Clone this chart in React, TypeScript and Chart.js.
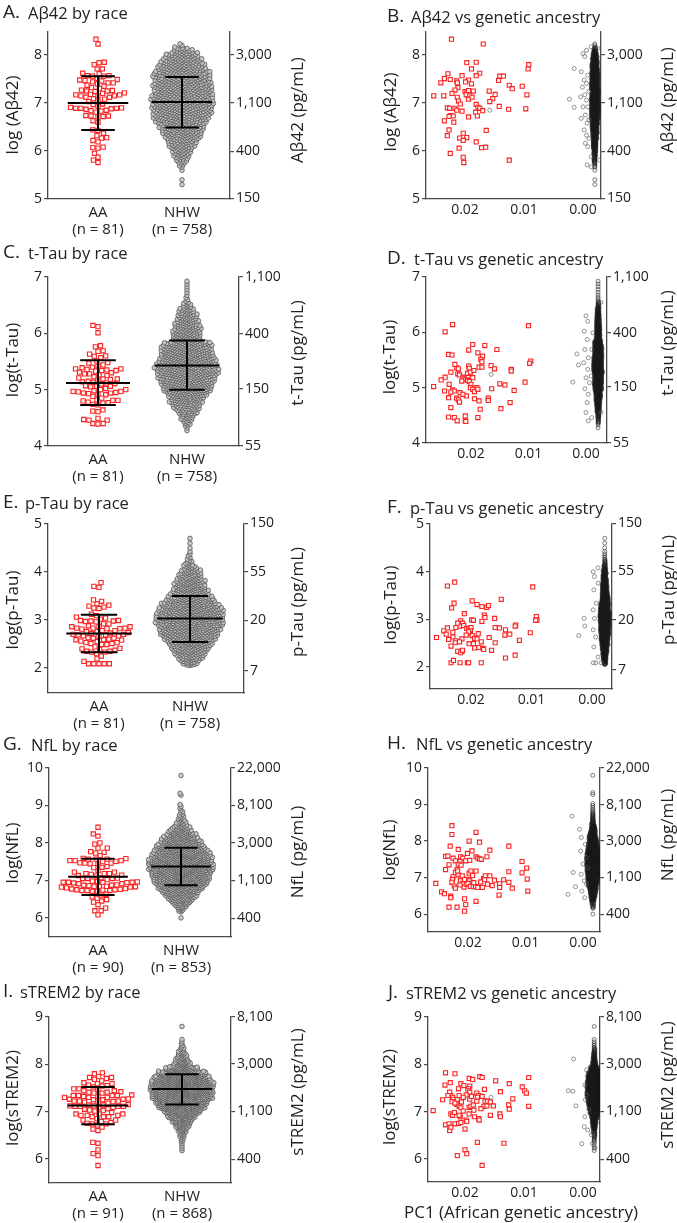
import React, { useEffect, useRef } from 'react';
import { Chart, registerables } from 'chart.js';

Chart.register(...registerables);

const FONT = "'Open Sans', 'Noto Sans', 'DejaVu Sans', sans-serif";
const INK = '#222222';
const AXIS_COLOR = '#4a4a4a';

// ================= Aβ42 (A, B) =================
const abAaPc1 = [0.0223,0.0169,0.0197,0.0181,0.0189,0.0092,0.0093,0.0229,0.0175,0.0205,
  0.0235,0.0225,0.0241,0.0214,0.0213,0.0194,0.0199,0.0181,0.0189,0.0141,
  0.0135,0.0143,0.0125,0.0120,0.0103,0.0212,0.0217,0.0186,0.0159,0.0200,
  0.0197,0.0194,0.0253,0.0236,0.0213,0.0198,0.0192,0.0149,0.0095,0.0153,
  0.0194,0.0158,0.0181,0.0142,0.0230,0.0226,0.0217,0.0214,0.0178,0.0175,
  0.0126,0.0097,0.0205,0.0182,0.0224,0.0220,0.0227,0.0194,0.0179,0.0235,
  0.0219,0.0227,0.0164,0.0230,0.0203,0.0209,0.0197,0.0203,0.0181,0.0210,
  0.0172,0.0165,0.0225,0.0203,0.0202,0.0125,0.0211,0.0208,0.0188,0.0222,0.0170];
const abAaLog = [8.33,8.23,7.84,7.85,7.71,7.80,7.71,7.61,7.62,7.57,
  7.51,7.49,7.42,7.46,7.42,7.48,7.44,7.57,7.40,7.56,
  7.56,7.47,7.37,7.30,7.35,7.32,7.27,7.25,7.25,7.24,
  7.21,7.26,7.15,7.15,7.12,7.17,7.15,7.18,7.17,7.09,
  7.08,7.03,6.97,6.93,6.90,6.89,6.89,6.85,6.91,6.89,
  6.87,6.88,6.83,6.81,6.74,6.73,6.72,6.71,6.73,6.63,
  6.60,6.44,6.43,6.32,6.37,6.27,6.28,6.22,6.19,6.06,
  6.07,6.08,5.95,5.87,5.76,5.81,7.04,6.98,7.12,7.20,6.84];
const abNhwBinLow = 5.25;
const abNhwCounts = [1,1,0,1,4,8,11,14,19,21,25,29,32,35,40,42,43,44,44,42,42,41,40,40,35,33,28,23,14,3];
const abNhwOutPc1 = [0.0023,0.0015,0.0015,0.0158,0.0000,-0.0003,-0.0006,0.0003,-0.0002,0.0001,
  -0.0003,0.0004,-0.0006,0.0000,-0.0004,0.0003,-0.0007,-0.0002,-0.0006,-0.0004,
  -0.0008,-0.0007,-0.0014,-0.0006,-0.0008,-0.0010,-0.0008,-0.0010,-0.0010,-0.0014,
  -0.0025,-0.0028,-0.0014];
const abNhwOutLog = [7.08,7.72,6.91,6.85,8.03,7.97,8.10,7.65,7.48,7.33,
  7.17,7.13,7.06,6.92,6.75,6.68,6.58,6.44,6.33,6.16,
  6.09,5.71,5.88,7.41,7.58,7.24,6.92,6.65,6.26,8.17,
  8.14,5.81,5.67];
const abAaStats = [7.00, 7.56, 6.44];
const abNhwStats = [7.02, 7.54, 6.49];
const abLeftTicks = [5, 6, 7, 8];
const abRightTicks = [150, 400, 1100, 3000];
const abGroups = [['AA', '(n = 81)'], ['NHW', '(n = 758)']];

// ================= t-Tau (C, D) =================
const ttAaPc1 = [0.0232,0.0245,0.0100,0.0197,0.0176,0.0155,0.0204,0.0239,0.0233,0.0188,
  0.0180,0.0183,0.0181,0.0165,0.0096,0.0098,0.0225,0.0222,0.0204,0.0203,
  0.0186,0.0181,0.0159,0.0130,0.0130,0.0235,0.0223,0.0220,0.0245,0.0252,
  0.0214,0.0212,0.0209,0.0205,0.0206,0.0197,0.0206,0.0203,0.0200,0.0201,
  0.0197,0.0194,0.0265,0.0238,0.0150,0.0141,0.0106,0.0232,0.0229,0.0246,
  0.0235,0.0219,0.0164,0.0190,0.0188,0.0125,0.0239,0.0225,0.0208,0.0222,
  0.0220,0.0194,0.0186,0.0170,0.0170,0.0132,0.0235,0.0184,0.0148,0.0239,
  0.0229,0.0224,0.0210,0.0210,0.0209,0.0188,0.0216,0.0201,0.0214,0.0195,0.0228];
const ttAaLog = [6.14,6.01,6.12,5.78,5.76,5.69,5.68,5.60,5.59,5.63,
  5.57,5.51,5.47,5.40,5.48,5.44,5.36,5.34,5.39,5.35,
  5.37,5.37,5.34,5.33,5.30,5.28,5.25,5.23,5.19,5.14,
  5.19,5.17,5.15,5.21,5.26,5.18,5.13,5.11,5.06,5.00,
  4.97,4.93,5.02,5.06,5.07,5.05,5.10,4.96,4.94,4.94,
  4.92,4.91,4.98,5.00,4.97,4.95,4.82,4.81,4.85,4.78,
  4.74,4.80,4.76,4.81,4.77,4.73,4.64,4.61,4.62,4.47,
  4.46,4.40,4.49,4.40,4.39,4.46,5.12,5.28,4.88,5.31,5.42];
const ttNhwBinLow = 4.25;
const ttNhwCounts = [2,7,12,19,25,31,37,47,50,53,59,59,56,53,50,47,28,28,25,22,19,15,9,3,2,2,2];
const ttNhwOutPc1 = [0.0023,0.0016,0.0013,0.0000,-0.0003,0.0003,-0.0002,0.0002,-0.0004,0.0004,
  -0.0003,0.0000,-0.0006,0.0002,-0.0004,-0.0002,0.0000,-0.0004,-0.0010,-0.0009,
  -0.0010,-0.0012,-0.0026,-0.0026,0.0165];
const ttNhwOutLog = [5.10,5.61,5.41,6.30,6.20,6.02,5.87,5.69,5.54,5.45,
  5.33,5.18,5.09,4.98,4.88,4.73,4.55,4.40,4.46,5.21,
  5.69,5.99,4.55,6.54,5.24];
const ttAaStats = [5.12, 5.52, 4.73];
const ttNhwStats = [5.43, 5.875, 5.00];
const ttLeftTicks = [4, 5, 6, 7];
const ttRightTicks = [55, 150, 400, 1100];
const ttGroups = [['AA', '(n = 81)'], ['NHW', '(n = 758)']];

// ================= p-Tau (E, F) =================
const ptAaPc1 = [0.0239,0.0227,0.0098,0.0228,0.0232,0.0198,0.0190,0.0182,0.0174,0.0171,
  0.0150,0.0178,0.0177,0.0161,0.0126,0.0127,0.0092,0.0091,0.0093,0.0217,
  0.0214,0.0219,0.0212,0.0239,0.0245,0.0241,0.0230,0.0230,0.0207,0.0204,
  0.0200,0.0199,0.0196,0.0201,0.0203,0.0198,0.0182,0.0160,0.0153,0.0144,
  0.0136,0.0143,0.0120,0.0102,0.0257,0.0237,0.0225,0.0215,0.0226,0.0219,
  0.0194,0.0190,0.0183,0.0203,0.0196,0.0233,0.0194,0.0187,0.0180,0.0179,
  0.0166,0.0160,0.0222,0.0215,0.0217,0.0214,0.0143,0.0127,0.0233,0.0229,
  0.0218,0.0206,0.0204,0.0183,0.0204,0.0208,0.0222,0.0225,0.0211,0.0188,0.0170];
const ptAaLog = [3.70,3.78,3.68,3.34,3.24,3.39,3.31,3.27,3.25,3.29,
  3.42,3.09,3.04,3.02,2.88,2.86,3.06,2.99,2.98,2.97,
  2.92,2.86,2.87,2.82,2.76,2.69,2.73,2.63,2.81,2.78,
  2.83,2.99,2.98,2.76,2.70,2.66,2.96,2.83,2.82,2.67,
  2.69,2.78,2.56,2.72,2.62,2.58,2.55,2.59,2.51,2.53,
  2.60,2.59,2.53,2.49,2.49,2.44,2.40,2.41,2.39,2.37,
  2.35,2.51,2.33,2.33,2.30,2.35,2.19,2.25,2.09,2.14,
  2.09,2.09,2.09,2.09,2.74,2.67,2.92,2.83,3.12,2.70,2.62];
const ptNhwBinLow = 2.05;
const ptNhwCounts = [14,20,25,31,36,42,48,50,53,56,56,53,48,42,36,31,28,25,20,17,11,6,3,2,1,1,1];
const ptNhwOutPc1 = [0.0022,0.0013,0.0012,-0.0002,-0.0004,-0.0003,-0.0007,-0.0002,-0.0004,-0.0002,
  -0.0006,-0.0003,-0.0002,-0.0006,-0.0010,-0.0010,-0.0010,0.0157,-0.0015];
const ptNhwOutLog = [2.66,3.02,2.86,4.00,3.90,3.62,3.34,3.20,3.02,2.78,
  2.63,2.42,2.09,2.09,2.21,3.76,4.08,2.82,2.09];
const ptAaStats = [2.72, 3.11, 2.33];
const ptNhwStats = [3.03, 3.50, 2.54];
const ptLeftTicks = [2, 3, 4, 5];
const ptRightTicks = [7, 20, 55, 150];
const ptGroups = [['AA', '(n = 81)'], ['NHW', '(n = 758)']];

// ================= NfL (G, H) =================
const nfAaPc1 = [0.0228,0.0228,0.0186,0.0231,0.0198,0.0180,0.0129,0.0217,0.0162,0.0239,
  0.0235,0.0226,0.0213,0.0209,0.0201,0.0214,0.0217,0.0204,0.0197,0.0186,
  0.0183,0.0180,0.0177,0.0167,0.0106,0.0239,0.0233,0.0219,0.0222,0.0217,
  0.0226,0.0227,0.0228,0.0224,0.0222,0.0213,0.0213,0.0209,0.0207,0.0203,
  0.0206,0.0198,0.0197,0.0198,0.0200,0.0196,0.0191,0.0187,0.0183,0.0192,
  0.0173,0.0170,0.0162,0.0178,0.0171,0.0154,0.0138,0.0158,0.0145,0.0145,
  0.0129,0.0123,0.0129,0.0106,0.0098,0.0097,0.0096,0.0146,0.0256,0.0246,
  0.0241,0.0230,0.0230,0.0233,0.0219,0.0206,0.0204,0.0206,0.0186,0.0212,
  0.0222,0.0210,0.0195,0.0214,0.0190,0.0175,0.0166,0.0218,0.0186,0.0193];
const nfAaLog = [8.42,8.18,8.24,7.86,8.00,7.97,7.86,7.77,7.75,7.58,
  7.59,7.53,7.57,7.53,7.66,7.44,7.37,7.46,7.47,7.57,
  7.53,7.51,7.50,7.57,7.44,7.22,7.35,7.22,7.14,7.07,
  7.02,6.95,6.87,6.77,6.71,6.98,6.91,6.84,6.74,6.82,
  6.95,7.12,6.95,6.91,6.84,6.76,6.75,6.75,6.73,7.06,
  6.97,7.05,7.05,6.88,6.94,6.93,6.94,6.78,6.83,6.73,
  6.87,6.71,7.16,7.13,7.26,6.96,6.63,6.52,6.84,6.61,
  6.56,6.49,6.45,6.19,6.19,6.42,6.26,6.08,6.35,7.34,
  7.46,7.05,7.18,6.80,6.86,6.73,6.82,7.18,7.18,7.73];
const nfNhwBinLow = 5.95;
const nfNhwCounts = [1,0,5,9,15,21,26,32,38,44,47,50,53,56,56,56,53,50,44,41,35,32,26,21,15,9,6,5,3,2,2,0,0,2,0,0,0,0,1];
const nfNhwOutPc1 = [0.0026,0.0019,0.0017,0.0013,0.0006,0.0003,0.0004,0.0000,0.0003,-0.0002,
  0.0002,-0.0003,-0.0006,-0.0004,-0.0008,-0.0006,-0.0017];
const nfNhwOutLog = [6.54,8.68,7.14,6.75,8.32,8.10,7.73,7.37,7.09,6.91,
  6.63,6.45,7.55,7.91,7.27,6.82,6.27];
const nfAaStats = [7.10, 7.58, 6.61];
const nfNhwStats = [7.37, 7.87, 6.87];
const nfLeftTicks = [6, 7, 8, 9, 10];
const nfRightTicks = [400, 1100, 3000, 8100, 22000];
const nfGroups = [['AA', '(n = 90)'], ['NHW', '(n = 853)']];

// ================= sTREM2 (I, J) =================
const stAaPc1 = [0.0233,0.0217,0.0175,0.0171,0.0092,0.0193,0.0187,0.0148,0.0225,0.0207,
  0.0125,0.0234,0.0202,0.0192,0.0103,0.0211,0.0194,0.0099,0.0096,0.0226,
  0.0195,0.0192,0.0140,0.0180,0.0224,0.0210,0.0198,0.0177,0.0221,0.0220,
  0.0203,0.0192,0.0179,0.0171,0.0238,0.0222,0.0213,0.0206,0.0166,0.0162,
  0.0157,0.0119,0.0254,0.0214,0.0210,0.0207,0.0193,0.0190,0.0186,0.0168,
  0.0163,0.0152,0.0126,0.0092,0.0125,0.0173,0.0224,0.0221,0.0208,0.0210,
  0.0157,0.0141,0.0140,0.0184,0.0177,0.0176,0.0198,0.0197,0.0233,0.0227,
  0.0217,0.0211,0.0207,0.0226,0.0224,0.0200,0.0179,0.0134,0.0200,0.0197,
  0.0213,0.0171,0.0218,0.0189,0.0203,0.0193,0.0217,0.0180,0.0229,0.0167,0.0185];
const stAaLog = [7.82,7.80,7.74,7.72,7.72,7.70,7.68,7.65,7.61,7.59,
  7.59,7.56,7.55,7.54,7.52,7.48,7.48,7.44,7.39,7.41,
  7.44,7.41,7.42,7.39,7.34,7.34,7.35,7.34,7.30,7.26,
  7.30,7.26,7.30,7.32,7.25,7.21,7.25,7.20,7.22,7.22,
  7.20,7.27,7.02,7.15,7.11,7.08,7.09,7.11,7.14,7.11,
  7.12,7.12,7.14,7.11,7.05,7.06,6.95,6.92,6.89,6.92,
  6.92,6.95,6.89,6.89,6.85,6.82,6.82,6.79,6.72,6.74,
  6.74,6.75,6.77,6.60,6.67,6.63,6.35,6.33,6.19,6.11,
  6.07,5.86,6.98,7.32,7.01,6.95,7.18,7.22,7.34,7.47,7.03];
const stNhwBinLow = 6.15;
const stNhwCounts = [2,2,4,7,11,18,26,35,48,62,70,79,84,84,84,75,66,44,22,16,11,7,3,2,0,0,1];
const stNhwOutPc1 = [0.0025,0.0017,0.0016,0.0012,0.0002,-0.0002,-0.0003,-0.0004,-0.0003,-0.0006,
  -0.0006,-0.0010,-0.0008,-0.0014,-0.0017,-0.0016,-0.0020,0.0156,0.0158];
const stNhwOutLog = [7.44,7.43,8.11,7.12,6.32,6.68,6.89,7.25,7.56,7.88,
  7.35,7.04,6.61,6.51,6.54,6.32,6.23,7.30,7.22];
const stAaStats = [7.13, 7.52, 6.73];
const stNhwStats = [7.48, 7.79, 7.15];
const stLeftTicks = [6, 7, 8, 9];
const stRightTicks = [400, 1100, 3000, 8100];
const stGroups = [['AA', '(n = 91)'], ['NHW', '(n = 868)']];

const xAncTicks = [0.02, 0.01, 0.0];

// ================= tables built from the arrays =================
const MARKERS = [
  { name: 'Aβ42', letters: ['A', 'B'], lTitle: 'log (Aβ42)', rTitle: 'Aβ42 (pg/mL)', aaPc1: abAaPc1, aaLog: abAaLog, binLow: abNhwBinLow, counts: abNhwCounts, outPc1: abNhwOutPc1, outLog: abNhwOutLog, aaStats: abAaStats, nhwStats: abNhwStats, lTicks: abLeftTicks, rTicks: abRightTicks, groups: abGroups },
  { name: 't-Tau', letters: ['C', 'D'], lTitle: 'log(t-Tau)', rTitle: 't-Tau (pg/mL)', aaPc1: ttAaPc1, aaLog: ttAaLog, binLow: ttNhwBinLow, counts: ttNhwCounts, outPc1: ttNhwOutPc1, outLog: ttNhwOutLog, aaStats: ttAaStats, nhwStats: ttNhwStats, lTicks: ttLeftTicks, rTicks: ttRightTicks, groups: ttGroups },
  { name: 'p-Tau', letters: ['E', 'F'], lTitle: 'log(p-Tau)', rTitle: 'p-Tau (pg/mL)', aaPc1: ptAaPc1, aaLog: ptAaLog, binLow: ptNhwBinLow, counts: ptNhwCounts, outPc1: ptNhwOutPc1, outLog: ptNhwOutLog, aaStats: ptAaStats, nhwStats: ptNhwStats, lTicks: ptLeftTicks, rTicks: ptRightTicks, groups: ptGroups },
  { name: 'NfL', letters: ['G', 'H'], lTitle: 'log(NfL)', rTitle: 'NfL (pg/mL)', aaPc1: nfAaPc1, aaLog: nfAaLog, binLow: nfNhwBinLow, counts: nfNhwCounts, outPc1: nfNhwOutPc1, outLog: nfNhwOutLog, aaStats: nfAaStats, nhwStats: nfNhwStats, lTicks: nfLeftTicks, rTicks: nfRightTicks, groups: nfGroups },
  { name: 'sTREM2', letters: ['I', 'J'], lTitle: 'log(sTREM2)', rTitle: 'sTREM2 (pg/mL)', aaPc1: stAaPc1, aaLog: stAaLog, binLow: stNhwBinLow, counts: stNhwCounts, outPc1: stNhwOutPc1, outLog: stNhwOutLog, aaStats: stAaStats, nhwStats: stNhwStats, lTicks: stLeftTicks, rTicks: stRightTicks, groups: stGroups },
];

// page layout (pixels)
const LAYOUT = [
  { race: { T: 32, B: 199, ymin: 5, ymax: 8.48, L: 48, R: 230, cats: [98, 182], title: [3, 12, 28], lt: [13, 115], rt: [298, 110], d: 2.6 },
    anc: { T: 32, B: 199, ymin: 5, ymax: 8.48, L: 426, R: 601, x02: 465, x00: 583, title: [387, 16, 411], lt: [391, 112], rt: [668, 100], core: -0.0020 } },
  { race: { T: 277, B: 446, ymin: 4, ymax: 7, L: 48, R: 239, cats: [98, 187], title: [3, 252, 28], lt: [13, 360], rt: [298, 353], d: 2.45 },
    anc: { T: 277, B: 443, ymin: 4, ymax: 7, L: 426, R: 607, x02: 471, x00: 586, title: [387, 258, 414], lt: [390, 357], rt: [668, 343], core: -0.0021 } },
  { race: { T: 524, B: 693, ymin: 1.48, ymax: 5, L: 48, R: 244, cats: [99, 190], title: [3, 502, 25], lt: [13, 610], rt: [298, 602], d: 2.4 },
    anc: { T: 524, B: 689, ymin: 1.54, ymax: 5, L: 430, R: 612, x02: 471, x00: 592, title: [387, 507, 410], lt: [391, 605], rt: [669, 590], core: -0.0021 } },
  { race: { T: 768, B: 937, ymin: 5.49, ymax: 10, L: 49, R: 231, cats: [98, 181], title: [3, 744, 31], lt: [13, 853], rt: [298, 852], d: 2.1 },
    anc: { T: 768, B: 932, ymin: 5.51, ymax: 10, L: 428, R: 600, x02: 468, x00: 583, title: [387, 743, 416], lt: [390, 850], rt: [668, 835], core: -0.0017 } },
  { race: { T: 1017, B: 1183, ymin: 5.49, ymax: 9, L: 49, R: 231, cats: [98, 182], title: [3, 991, 20], lt: [13, 1098], rt: [298, 1092], d: 1.9 },
    anc: { T: 1017, B: 1182, ymin: 5.51, ymax: 9, L: 428, R: 600, x02: 465, x00: 583, title: [388, 992, 406], lt: [390, 1097], rt: [668, 1085], core: -0.0019, xTitle: [521, 1213] } },
];

// expand a read-off histogram (0.1-wide bins) into individual values
function expandBins(low: number, counts: number[], width = 0.1): number[] {
  const out: number[] = [];
  counts.forEach((c, k) => {
    for (let j = 0; j < c; j++) out.push(low + k * width + ((j + 0.5) / c) * width);
  });
  return out;
}

// beeswarm layout: returns horizontal pixel offsets
function swarm(values: number[], pxPerY: number, d: number): number[] {
  const order = values.map((_, i) => i).sort((a, b) => values[a] - values[b]);
  const placed: { x: number; y: number }[] = [];
  const out = new Array(values.length).fill(0);
  for (const i of order) {
    const y = values[i] * pxPerY;
    const blocks: [number, number][] = [];
    for (let k = placed.length - 1; k >= 0; k--) {
      const p = placed[k];
      const dy = y - p.y;
      if (dy >= d) break;
      const w = Math.sqrt(d * d - dy * dy);
      blocks.push([p.x - w, p.x + w]);
    }
    const cands = [0];
    blocks.forEach(([a, b]) => cands.push(a, b));
    cands.sort((a, b) => Math.abs(a) - Math.abs(b));
    let best = 0;
    for (const c of cands) {
      if (blocks.every(([a, b]) => c <= a + 1e-9 || c >= b - 1e-9)) { best = c; break; }
    }
    placed.push({ x: best, y });
    out[i] = best;
  }
  return out;
}

function textPlugin(items: any[]) {
  return {
    id: 'panelText',
    afterDraw(chart: any) {
      const ctx = chart.ctx;
      items.forEach((t) => {
        ctx.save();
        ctx.translate(t.x, t.y);
        if (t.rot) ctx.rotate(t.rot);
        ctx.font = `${t.size}px ${FONT}`;
        ctx.fillStyle = INK;
        ctx.textAlign = 'center';
        ctx.textBaseline = 'middle';
        ctx.fillText(t.text, 0, 0);
        ctx.restore();
      });
    },
  };
}

function segment(pts: { x: number; y: number }[]) {
  return { data: pts, showLine: true, borderColor: '#000', borderWidth: 2, pointRadius: 0, fill: false };
}

function statLines(c: number, s: number[]) {
  const [m, hi, lo] = s;
  return [
    segment([{ x: c - 0.36, y: m }, { x: c + 0.36, y: m }]),
    segment([{ x: c - 0.2, y: hi }, { x: c + 0.2, y: hi }]),
    segment([{ x: c - 0.2, y: lo }, { x: c + 0.2, y: lo }]),
    segment([{ x: c, y: lo }, { x: c, y: hi }]),
  ];
}

function yScales(m: any, lay: any, cx: number, cw: number) {
  const grid = { drawOnChartArea: false, drawTicks: true, tickLength: 4, color: AXIS_COLOR, lineWidth: 1.2 };
  const border = { display: true, color: AXIS_COLOR, width: 1.3 };
  return {
    y: {
      type: 'linear', position: 'left', min: lay.ymin, max: lay.ymax,
      afterBuildTicks: (s: any) => { s.ticks = m.lTicks.map((v: number) => ({ value: v })); },
      afterFit: (s: any) => { s.width = lay.L - cx; },
      ticks: { font: { family: FONT, size: 14 }, color: INK, padding: 2, callback: (v: any) => String(v) },
      grid, border,
    },
    y2: {
      type: 'linear', position: 'right', min: lay.ymin, max: lay.ymax,
      afterBuildTicks: (s: any) => { s.ticks = m.rTicks.map((v: number) => ({ value: Math.log(v) })); },
      afterFit: (s: any) => { s.width = cx + cw - lay.R; },
      ticks: { font: { family: FONT, size: 14 }, color: INK, padding: 2, callback: (v: any) => Math.round(Math.exp(v)).toLocaleString('en-US') },
      grid, border,
    },
  };
}

function buildConfig(spec: any) {
  const { m, lay, kind, cx, cy, cw, ch } = spec;
  const pxPerY = (lay.B - lay.T) / (lay.ymax - lay.ymin);
  const nhw = expandBins(m.binLow, m.counts);
  const texts: any[] = [
    { text: m.lTitle, x: lay.lt[0] - cx, y: lay.lt[1] - cy, rot: -Math.PI / 2, size: 17 },
    { text: m.rTitle, x: lay.rt[0] - cx, y: lay.rt[1] - cy, rot: -Math.PI / 2, size: 17 },
  ];
  let datasets: any[] = [];
  let xScale: any;
  if (kind === 'race') {
    const unitX = lay.cats[1] - lay.cats[0];
    const xmin = 1 - (lay.cats[0] - lay.L) / unitX;
    const xmax = 2 + (lay.R - lay.cats[1]) / unitX;
    const aaOff = swarm(m.aaLog, pxPerY, 5.2);
    const nhwOff = swarm(nhw, pxPerY, lay.d);
    datasets = [
      ...statLines(1, m.aaStats),
      ...statLines(2, m.nhwStats),
      {
        data: m.aaLog.map((y: number, i: number) => ({ x: 1 + aaOff[i] / unitX, y })),
        pointStyle: 'rect', pointRadius: 3.0, borderWidth: 1.1,
        borderColor: 'rgb(250,35,35)', backgroundColor: 'rgba(255,245,245,0.95)',
      },
      {
        data: nhw.map((y: number, i: number) => ({ x: 2 + nhwOff[i] / unitX, y })),
        pointStyle: 'circle', pointRadius: 2.3, borderWidth: 0.9,
        borderColor: 'rgba(85,85,85,0.9)', backgroundColor: 'rgba(200,200,200,0.9)',
      },
    ];
    xScale = {
      type: 'linear', position: 'bottom', min: xmin, max: xmax,
      afterBuildTicks: (s: any) => { s.ticks = [{ value: 1 }, { value: 2 }]; },
      afterFit: (s: any) => { s.height = cy + ch - lay.B; },
      ticks: { font: { family: FONT, size: 15, lineHeight: 1.15 }, color: INK, padding: 5, maxRotation: 0, minRotation: 0, autoSkip: false, callback: (v: any) => m.groups[Math.round(v) - 1] },
      grid: { drawOnChartArea: false, drawTicks: false },
      border: { display: true, color: AXIS_COLOR, width: 1.3 },
    };
  } else {
    const k = (lay.x00 - lay.x02) / 0.02; // px per PC1 unit
    const xHi = (lay.x00 - lay.L) / k;
    const xLo = (lay.x00 - lay.R) / k;
    const coreOff = swarm(nhw, pxPerY, 0.9);
    datasets = [
      {
        data: m.aaLog.map((y: number, i: number) => ({ x: m.aaPc1[i], y })),
        pointStyle: 'rect', pointRadius: 2.9, borderWidth: 1.1,
        borderColor: 'rgb(250,35,35)', backgroundColor: 'rgba(255,245,245,0.95)',
      },
      {
        data: m.outLog.map((y: number, i: number) => ({ x: m.outPc1[i], y })),
        pointStyle: 'circle', pointRadius: 2, borderWidth: 0.8,
        borderColor: 'rgba(90,90,90,0.8)', backgroundColor: 'rgba(255,255,255,0)',
      },
      {
        data: nhw.map((y: number, i: number) => ({ x: lay.core + coreOff[i] / k, y })),
        pointStyle: 'circle', pointRadius: 2, borderWidth: 0.8,
        borderColor: 'rgba(25,25,25,0.7)', backgroundColor: 'rgba(255,255,255,0)',
      },
    ];
    xScale = {
      type: 'linear', position: 'bottom', min: xLo, max: xHi, reverse: true,
      afterBuildTicks: (s: any) => { s.ticks = xAncTicks.map((v) => ({ value: v })); },
      afterFit: (s: any) => { s.height = cy + ch - lay.B; },
      ticks: { font: { family: FONT, size: 14 }, color: INK, padding: 3, maxRotation: 0, minRotation: 0, autoSkip: false, callback: (v: any) => Number(v).toFixed(2) },
      grid: { drawOnChartArea: false, drawTicks: false },
      border: { display: true, color: AXIS_COLOR, width: 1.3 },
    };
    if (lay.xTitle) texts.push({ text: 'PC1 (African genetic ancestry)', x: lay.xTitle[0] - cx, y: lay.xTitle[1] - cy, rot: 0, size: 17 });
  }
  return {
    type: 'scatter',
    data: { datasets },
    options: {
      animation: false, responsive: false, maintainAspectRatio: false, events: [],
      layout: { autoPadding: false, padding: { top: lay.T - cy, left: 0, right: 0, bottom: 0 } },
      plugins: { legend: { display: false }, tooltip: { enabled: false } },
      scales: { x: xScale, ...yScales(m, lay, cx, cw) },
    },
    plugins: [textPlugin(texts)],
  };
}

const PANELS = MARKERS.flatMap((m, r) => {
  const rows = LAYOUT[r];
  return (['race', 'anc'] as const).map((kind, c) => {
    const lay: any = (rows as any)[kind];
    const cx = c === 0 ? 0 : 338;
    const cw = c === 0 ? 338 : 339;
    const cy = lay.T - 22;
    const ch = Math.min(1223, lay.B + 46) - cy;
    return { id: m.letters[c], kind, m, lay, cx, cy, cw, ch, text: kind === 'race' ? `${m.name} by race` : `${m.name} vs genetic ancestry` };
  });
});

function PanelCanvas({ spec }: { spec: any }) {
  const ref = useRef<HTMLCanvasElement>(null);
  useEffect(() => {
    const chart = new Chart(ref.current as HTMLCanvasElement, buildConfig(spec) as any);
    return () => chart.destroy();
  }, [spec]);
  return (
    <canvas ref={ref} width={spec.cw} height={spec.ch}
      style={{ position: 'absolute', left: spec.cx, top: spec.cy, width: spec.cw, height: spec.ch }} />
  );
}

function PanelTitle({ spec }: { spec: any }) {
  const [x, yc, tx] = spec.lay.title;
  return (
    <>
      <div style={{ position: 'absolute', left: x, top: yc - 13.6, lineHeight: '26px', fontSize: 19, color: INK, fontFamily: FONT, whiteSpace: 'nowrap' }}>{spec.id}.</div>
      <div style={{ position: 'absolute', left: tx, top: yc - 12, lineHeight: '26px', fontSize: 16.5, color: INK, fontFamily: FONT, whiteSpace: 'nowrap' }}>{spec.text}</div>
    </>
  );
}

export default function App() {
  return (
    <div style={{ position: 'absolute', left: 0, top: 0, width: 677, height: 1223, background: '#fff', overflow: 'hidden', fontFamily: FONT }}>
      {PANELS.map((p) => <PanelCanvas key={p.id} spec={p} />)}
      {PANELS.map((p) => <PanelTitle key={'t' + p.id} spec={p} />)}
    </div>
  );
}
